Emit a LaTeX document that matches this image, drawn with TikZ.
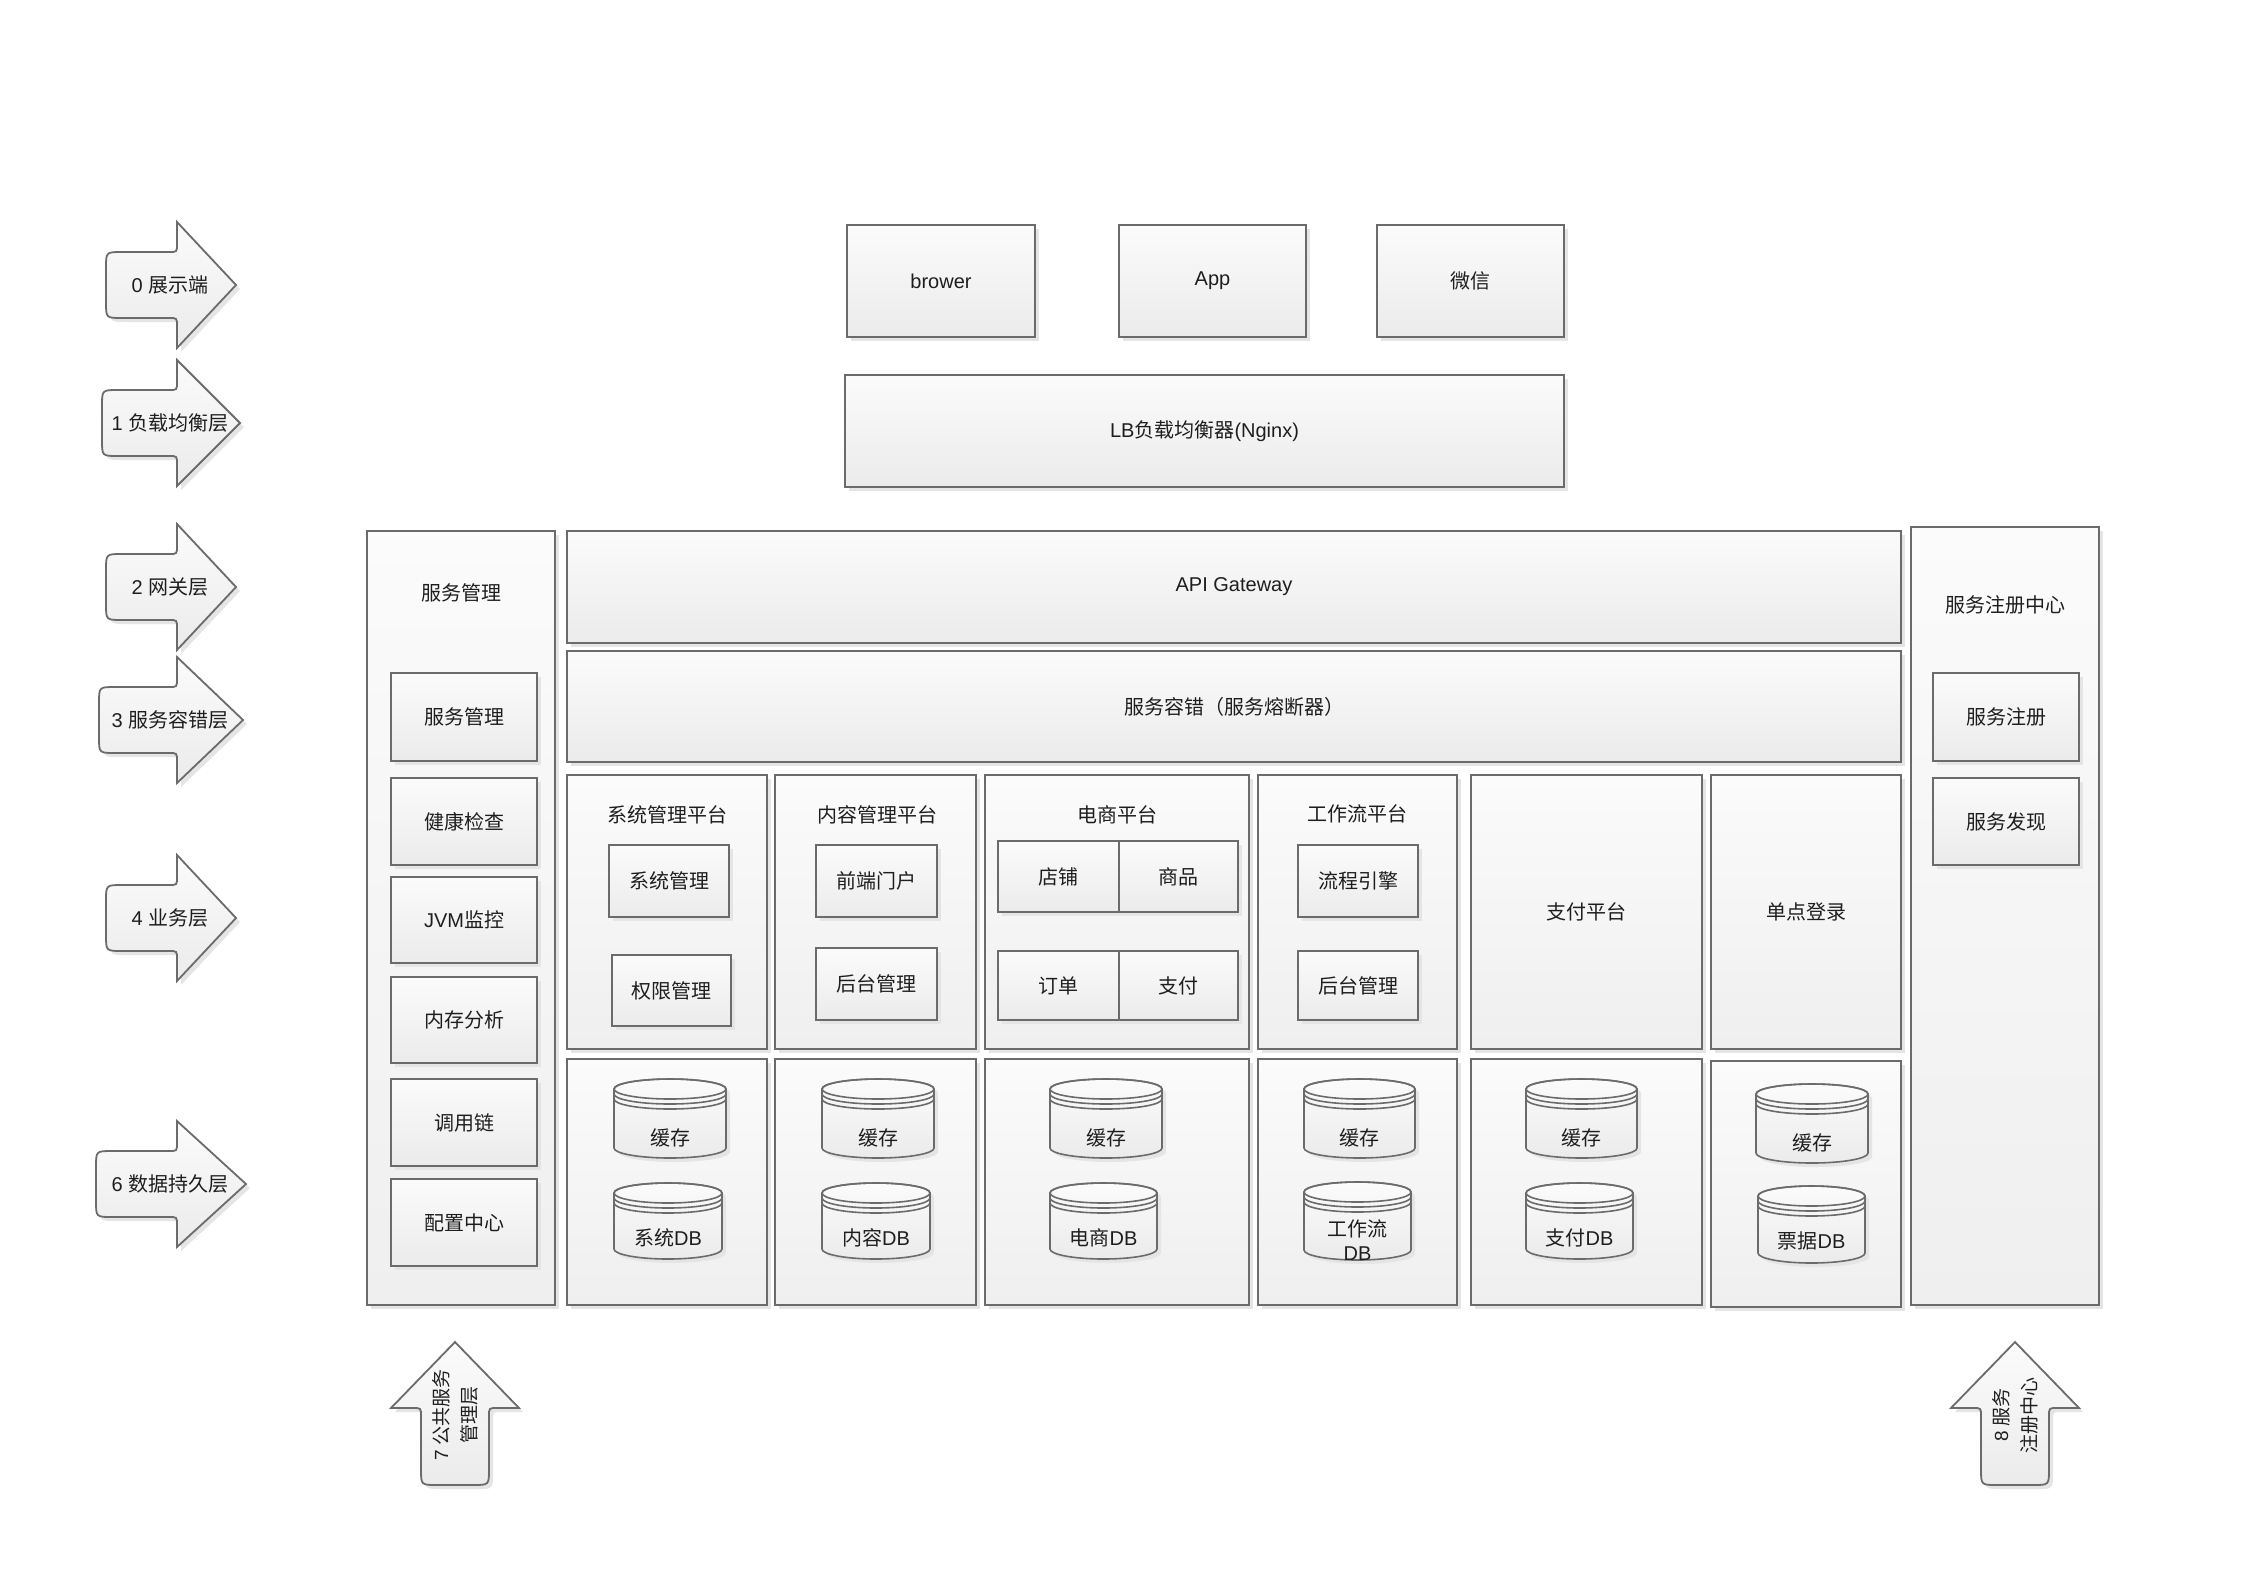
\documentclass[tikz,border=0pt]{standalone}
\usepackage{fontspec}
\setmainfont{Liberation Sans}
\newfontfamily\cjk{Noto Sans CJK SC}
\usetikzlibrary{shadows}
\newcommand\zh[1]{{\cjk #1}}
\definecolor{bd}{HTML}{6B6B6B}
\definecolor{tc}{HTML}{FBFBFB}
\definecolor{bc}{HTML}{EBEBEB}
\definecolor{ctc}{HTML}{FBFBFB}
\definecolor{cbc}{HTML}{EFEFEF}
\definecolor{txt}{HTML}{1E1E1E}
\tikzset{
 shadowed/.style={drop shadow={shadow xshift=4pt, shadow yshift=-4pt, fill=black!10, opacity=1}},
 base/.style={draw=bd, line width=1.8pt, inner sep=0pt, font=\fontsize{20}{24}\selectfont, text=txt, shadowed},
 box/.style={base, top color=tc, bottom color=bc},
 cont/.style={base, top color=ctc, bottom color=cbc},
 lbl/.style={font=\fontsize{20}{24}\selectfont, text=txt, inner sep=0pt},
 arrowsty/.style={draw=bd, line width=1.8pt, top color=tc, bottom color=bc, shadowed},
 cylsty/.style={draw=bd, line width=1.6pt, top color=tc, bottom color=bc, shadowed},
}
% style, name, x1, y1, x2, y2, text
\newcommand\bx[7][box]{\node[#1, minimum width={(#5-#3)*1pt}, minimum height={(#6-#4)*1pt}] (#2) at ({(#3+#5)/2},{(#4+#6)/2}) {#7};}
% name, x1, y1, x2, y2, text, text y offset
\newcommand\cyl[7]{%
 \pgfmathsetmacro\cx{(#2+#4)/2}%
 \pgfmathsetmacro\rx{(#4-#2)/2}%
 \path[cylsty] (#2,#3+10) -- (#2,#5-10) arc[start angle=180,end angle=360,x radius=\rx pt,y radius=10pt] -- (#4,#3+10) arc[start angle=0,end angle=180,x radius=\rx pt,y radius=10pt] -- cycle;
 \draw[bd, line width=1.6pt] (\cx,#3+10) ellipse[x radius=\rx pt, y radius=10pt];
 \draw[bd, line width=1.6pt] (#2,#3+15) arc[start angle=180,end angle=360,x radius=\rx pt,y radius=10pt];
 \draw[bd, line width=1.6pt] (#2,#3+20) arc[start angle=180,end angle=360,x radius=\rx pt,y radius=10pt];
 \node[lbl, align=center] (#1) at (\cx,#3+#7) {#6};}
% name, cx, cy, W, text
\newcommand\rarrow[5]{%
 \path[arrowsty] (#2+#4,#3) -- (#2+6,#3-63) -- (#2+6,#3-41) .. controls (#2+6,#3-33) .. (#2-2,#3-33) -- (#2-#4+16,#3-33) .. controls (#2-#4,#3-33) .. (#2-#4,#3-17) -- (#2-#4,#3+17) .. controls (#2-#4,#3+33) .. (#2-#4+16,#3+33) -- (#2-2,#3+33) .. controls (#2+6,#3+33) .. (#2+6,#3+41) -- (#2+6,#3+63) -- cycle;
 \node[lbl] (#1) at (#2-1,#3) {#5};}
% name, cx, text
\newcommand\uarrow[3]{%
 \path[arrowsty] (#2,1342) -- (#2+64,1408) -- (#2+42,1408) .. controls (#2+34,1408) .. (#2+34,1416) -- (#2+34,1469) .. controls (#2+34,1485) .. (#2+18,1485) -- (#2-18,1485) .. controls (#2-34,1485) .. (#2-34,1469) -- (#2-34,1416) .. controls (#2-34,1408) .. (#2-42,1408) -- (#2-64,1408) -- cycle;
 \node[lbl, rotate=90, align=center, font=\fontsize{19}{28}\selectfont] (#1) at (#2,1415) {#3};}

\begin{document}
\begin{tikzpicture}[x=1pt,y=-1pt]
\useasboundingbox[fill=white] (0,0) rectangle (2246,1588);

% left layer arrows
\rarrow{a0}{171}{285}{65}{0 \zh{展示端}}
\rarrow{a1}{171}{423}{69}{1 \zh{负载均衡层}}
\rarrow{a2}{171}{587}{65}{2 \zh{网关层}}
\rarrow{a3}{171}{720}{72}{3 \zh{服务容错层}}
\rarrow{a4}{171}{918}{65}{4 \zh{业务层}}
\rarrow{a6}{171}{1184}{75}{6 \zh{数据持久层}}

% top clients
\bx{brower}{847}{225}{1035}{337}{brower}
\bx{app}{1119}{225}{1306}{337}{App}
\bx{wx}{1377}{225}{1564}{337}{\zh{微信}}
\bx{lb}{845}{375}{1564}{487}{LB\zh{负载均衡器}(Nginx)}

% left column
\bx[cont]{svc}{367}{531}{555}{1305}{}
\node[lbl] (svct) at (461,593) {\zh{服务管理}};
\bx{l1}{391}{673}{537}{761}{\zh{服务管理}}
\bx{l2}{391}{778}{537}{865}{\zh{健康检查}}
\bx{l3}{391}{877}{537}{963}{JVM\zh{监控}}
\bx{l4}{391}{977}{537}{1063}{\zh{内存分析}}
\bx{l5}{391}{1079}{537}{1166}{\zh{调用链}}
\bx{l6}{391}{1179}{537}{1266}{\zh{配置中心}}

% gateway and fault tolerance
\bx{api}{567}{531}{1901}{643}{API Gateway}
\bx{ft}{567}{651}{1901}{762}{\zh{服务容错（服务熔断器）}}

% right column
\bx[cont]{reg}{1911}{527}{2099}{1305}{}
\node[lbl] (regt) at (2005,605) {\zh{服务注册中心}};
\bx{r1}{1933}{673}{2079}{761}{\zh{服务注册}}
\bx{r2}{1933}{778}{2079}{865}{\zh{服务发现}}

% business columns
\bx[cont]{b1}{567}{775}{767}{1049}{}
\bx[cont]{b2}{775}{775}{976}{1049}{}
\bx[cont]{b3}{985}{775}{1249}{1049}{}
\bx[cont]{b4}{1258}{775}{1457}{1049}{}
\bx[cont]{b5}{1471}{775}{1702}{1049}{\zh{支付平台}}
\bx[cont]{b6}{1711}{775}{1901}{1049}{\zh{单点登录}}
\node[lbl] (b1t) at (667,815) {\zh{系统管理平台}};
\node[lbl] (b2t) at (877,815) {\zh{内容管理平台}};
\node[lbl] (b3t) at (1117,815) {\zh{电商平台}};
\node[lbl] (b4t) at (1357,814) {\zh{工作流平台}};
\bx{s1}{609}{845}{729}{917}{\zh{系统管理}}
\bx{s2}{612}{955}{731}{1026}{\zh{权限管理}}
\bx{c1}{816}{845}{937}{917}{\zh{前端门户}}
\bx{c2}{816}{948}{937}{1020}{\zh{后台管理}}
\bx{e1}{998}{841}{1119}{912}{\zh{店铺}}
\bx{e2}{1119}{841}{1238}{912}{\zh{商品}}
\bx{e3}{998}{951}{1119}{1020}{\zh{订单}}
\bx{e4}{1119}{951}{1238}{1020}{\zh{支付}}
\bx{w1}{1298}{845}{1418}{917}{\zh{流程引擎}}
\bx{w2}{1298}{951}{1418}{1020}{\zh{后台管理}}

% data columns
\bx[cont]{d1}{567}{1059}{767}{1305}{}
\bx[cont]{d2}{775}{1059}{976}{1305}{}
\bx[cont]{d3}{985}{1059}{1249}{1305}{}
\bx[cont]{d4}{1258}{1059}{1457}{1305}{}
\bx[cont]{d5}{1471}{1059}{1702}{1305}{}
\bx[cont]{d6}{1711}{1061}{1901}{1307}{}
\cyl{k1}{614}{1079}{726}{1158}{\zh{缓存}}{59}
\cyl{db1}{614}{1183}{722}{1259}{\zh{系统}DB}{55}
\cyl{k2}{822}{1079}{934}{1158}{\zh{缓存}}{59}
\cyl{db2}{822}{1183}{930}{1259}{\zh{内容}DB}{55}
\cyl{k3}{1050}{1079}{1162}{1158}{\zh{缓存}}{59}
\cyl{db3}{1050}{1183}{1157}{1259}{\zh{电商}DB}{55}
\cyl{k4}{1304}{1079}{1415}{1158}{\zh{缓存}}{59}
\cyl{db4}{1304}{1182}{1411}{1260}{\zh{工作流}\\DB}{58}
\cyl{k5}{1526}{1079}{1637}{1158}{\zh{缓存}}{59}
\cyl{db5}{1526}{1183}{1633}{1259}{\zh{支付}DB}{55}
\cyl{k6}{1756}{1084}{1868}{1163}{\zh{缓存}}{59}
\cyl{db6}{1758}{1186}{1865}{1263}{\zh{票据}DB}{55}

% bottom arrows
\uarrow{a7}{455}{7 \zh{公共服务}\\\zh{管理层}}
\uarrow{a8}{2015}{8 \zh{服务}\\\zh{注册中心}}
\end{tikzpicture}
\end{document}
